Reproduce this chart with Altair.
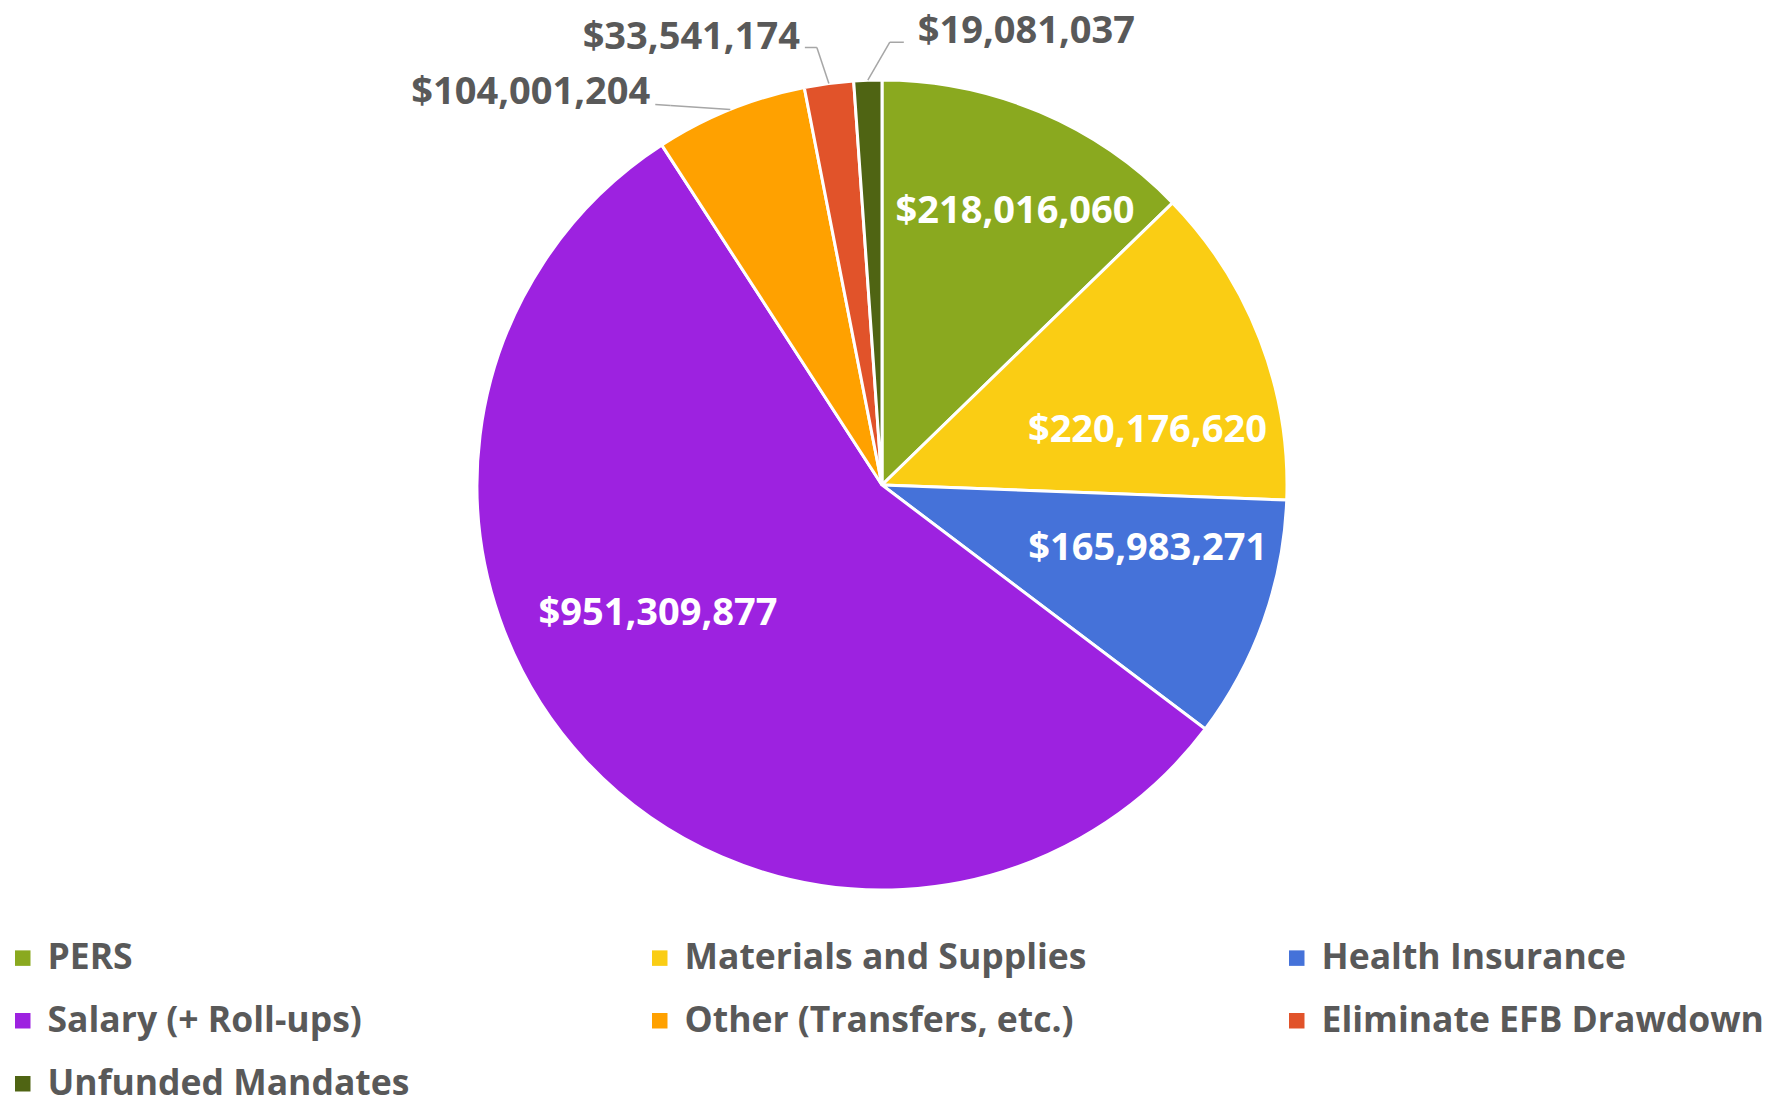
import altair as alt
import pandas as pd

# ---- data ----
categories = [
    "PERS",
    "Materials and Supplies",
    "Health Insurance",
    "Salary (+ Roll-ups)",
    "Other (Transfers, etc.)",
    "Eliminate EFB Drawdown",
    "Unfunded Mandates",
]
values = [218016060, 220176620, 165983271, 951309877, 104001204, 33541174, 19081037]
colors = ["#8AA91F", "#FACD14", "#4572D9", "#9D22E0", "#FFA100", "#E1532A", "#4F6413"]

# ---- layout (style) constants ----
CX, CY, R = 874, 477, 405
R_IN = 280
placement = ["in", "in", "in", "in", "right", "right", "left"]
text_off = [(24, -15), (4, 46), (2, -30), (-19, -62), (-80, -16), (-29, -46), (50, -48)]
knee_off = [(0, 0)] * 4 + [(-60, -4), (-12, -36), (22, -38)]
end_off = [(0, 0)] * 4 + [(-75, -5), (-24, -36), (36, -38)]
FONT = "Open Sans"
FS = 38

df = pd.DataFrame({
    "category": categories,
    "value": values,
    "idx": list(range(len(categories))),
    "place": placement,
    "rb": [R_IN if p == "in" else R for p in placement],
    "ox": [o[0] for o in text_off], "oy": [o[1] for o in text_off],
    "kox": [o[0] for o in knee_off], "koy": [o[1] for o in knee_off],
    "nox": [o[0] for o in end_off], "noy": [o[1] for o in end_off],
})

base = alt.Chart(df).transform_window(
    cum="sum(value)", sort=[alt.SortField("idx")], frame=[None, 0]
).transform_joinaggregate(total="sum(value)").transform_calculate(
    mid="2*PI*(datum.cum - datum.value/2)/datum.total",
    label="'$' + format(datum.value, ',')",
).transform_calculate(
    tx=f"{CX} + datum.rb*sin(datum.mid) + datum.ox",
    ty=f"{CY} - datum.rb*cos(datum.mid) + datum.oy",
    ex=f"{CX} + {R}*sin(datum.mid)",
    ey=f"{CY} - {R}*cos(datum.mid)",
).transform_calculate(
    kx="datum.ex + datum.kox", ky="datum.ey + datum.koy",
    nx="datum.ex + datum.nox", ny="datum.ey + datum.noy",
)

arcs = alt.Chart(df).mark_arc(radius=R, stroke="white", strokeWidth=3).encode(
    theta=alt.Theta("value:Q", stack=True),
    order=alt.Order("idx:Q"),
    x=alt.value(CX),
    y=alt.value(CY),
    color=alt.Color(
        "category:N",
        scale=alt.Scale(domain=categories, range=colors),
        sort=categories,
        legend=alt.Legend(
            title=None,
            orient="none",
            legendX=-3,
            legendY=932,
            columns=3,
            direction="horizontal",
            gridAlign="all",
            columnPadding=152,
            rowPadding=26,
            symbolType="square",
            symbolSize=240,
            symbolStrokeWidth=0,
            labelFont=FONT,
            labelFontSize=35.5,
            labelFontWeight="bold",
            labelColor="#595959",
            labelLimit=1000,
            labelOffset=7,
        ),
    ),
)

X = alt.X("tx:Q", scale=None, axis=None)
Y = alt.Y("ty:Q", scale=None, axis=None)

inside = base.transform_filter("datum.place == 'in'").mark_text(
    font=FONT, fontSize=FS, fontWeight="bold", color="white", align="center", baseline="middle"
).encode(x=X, y=Y, text="label:N")

out_right = base.transform_filter("datum.place == 'right'").mark_text(
    font=FONT, fontSize=FS, fontWeight="bold", color="#595959", align="right", baseline="middle"
).encode(x=X, y=Y, text="label:N")

out_left = base.transform_filter("datum.place == 'left'").mark_text(
    font=FONT, fontSize=FS, fontWeight="bold", color="#595959", align="left", baseline="middle"
).encode(x=X, y=Y, text="label:N")

lead1 = base.transform_filter("datum.place != 'in'").mark_rule(color="#A6A6A6", strokeWidth=1.5).encode(
    x=alt.X("ex:Q", scale=None, axis=None), y=alt.Y("ey:Q", scale=None, axis=None),
    x2="kx:Q", y2="ky:Q",
)
lead2 = base.transform_filter("datum.place != 'in'").mark_rule(color="#A6A6A6", strokeWidth=1.5).encode(
    x=alt.X("kx:Q", scale=None, axis=None), y=alt.Y("ky:Q", scale=None, axis=None),
    x2="nx:Q", y2="ny:Q",
)

chart = alt.layer(arcs, lead1, lead2, inside, out_right, out_left).properties(
    width=1762, height=1088, padding=0, autosize=alt.AutoSizeParams(type="none")
).configure_view(stroke=None)

chart.save("out.html", embed_options={"renderer": "svg", "actions": False})
